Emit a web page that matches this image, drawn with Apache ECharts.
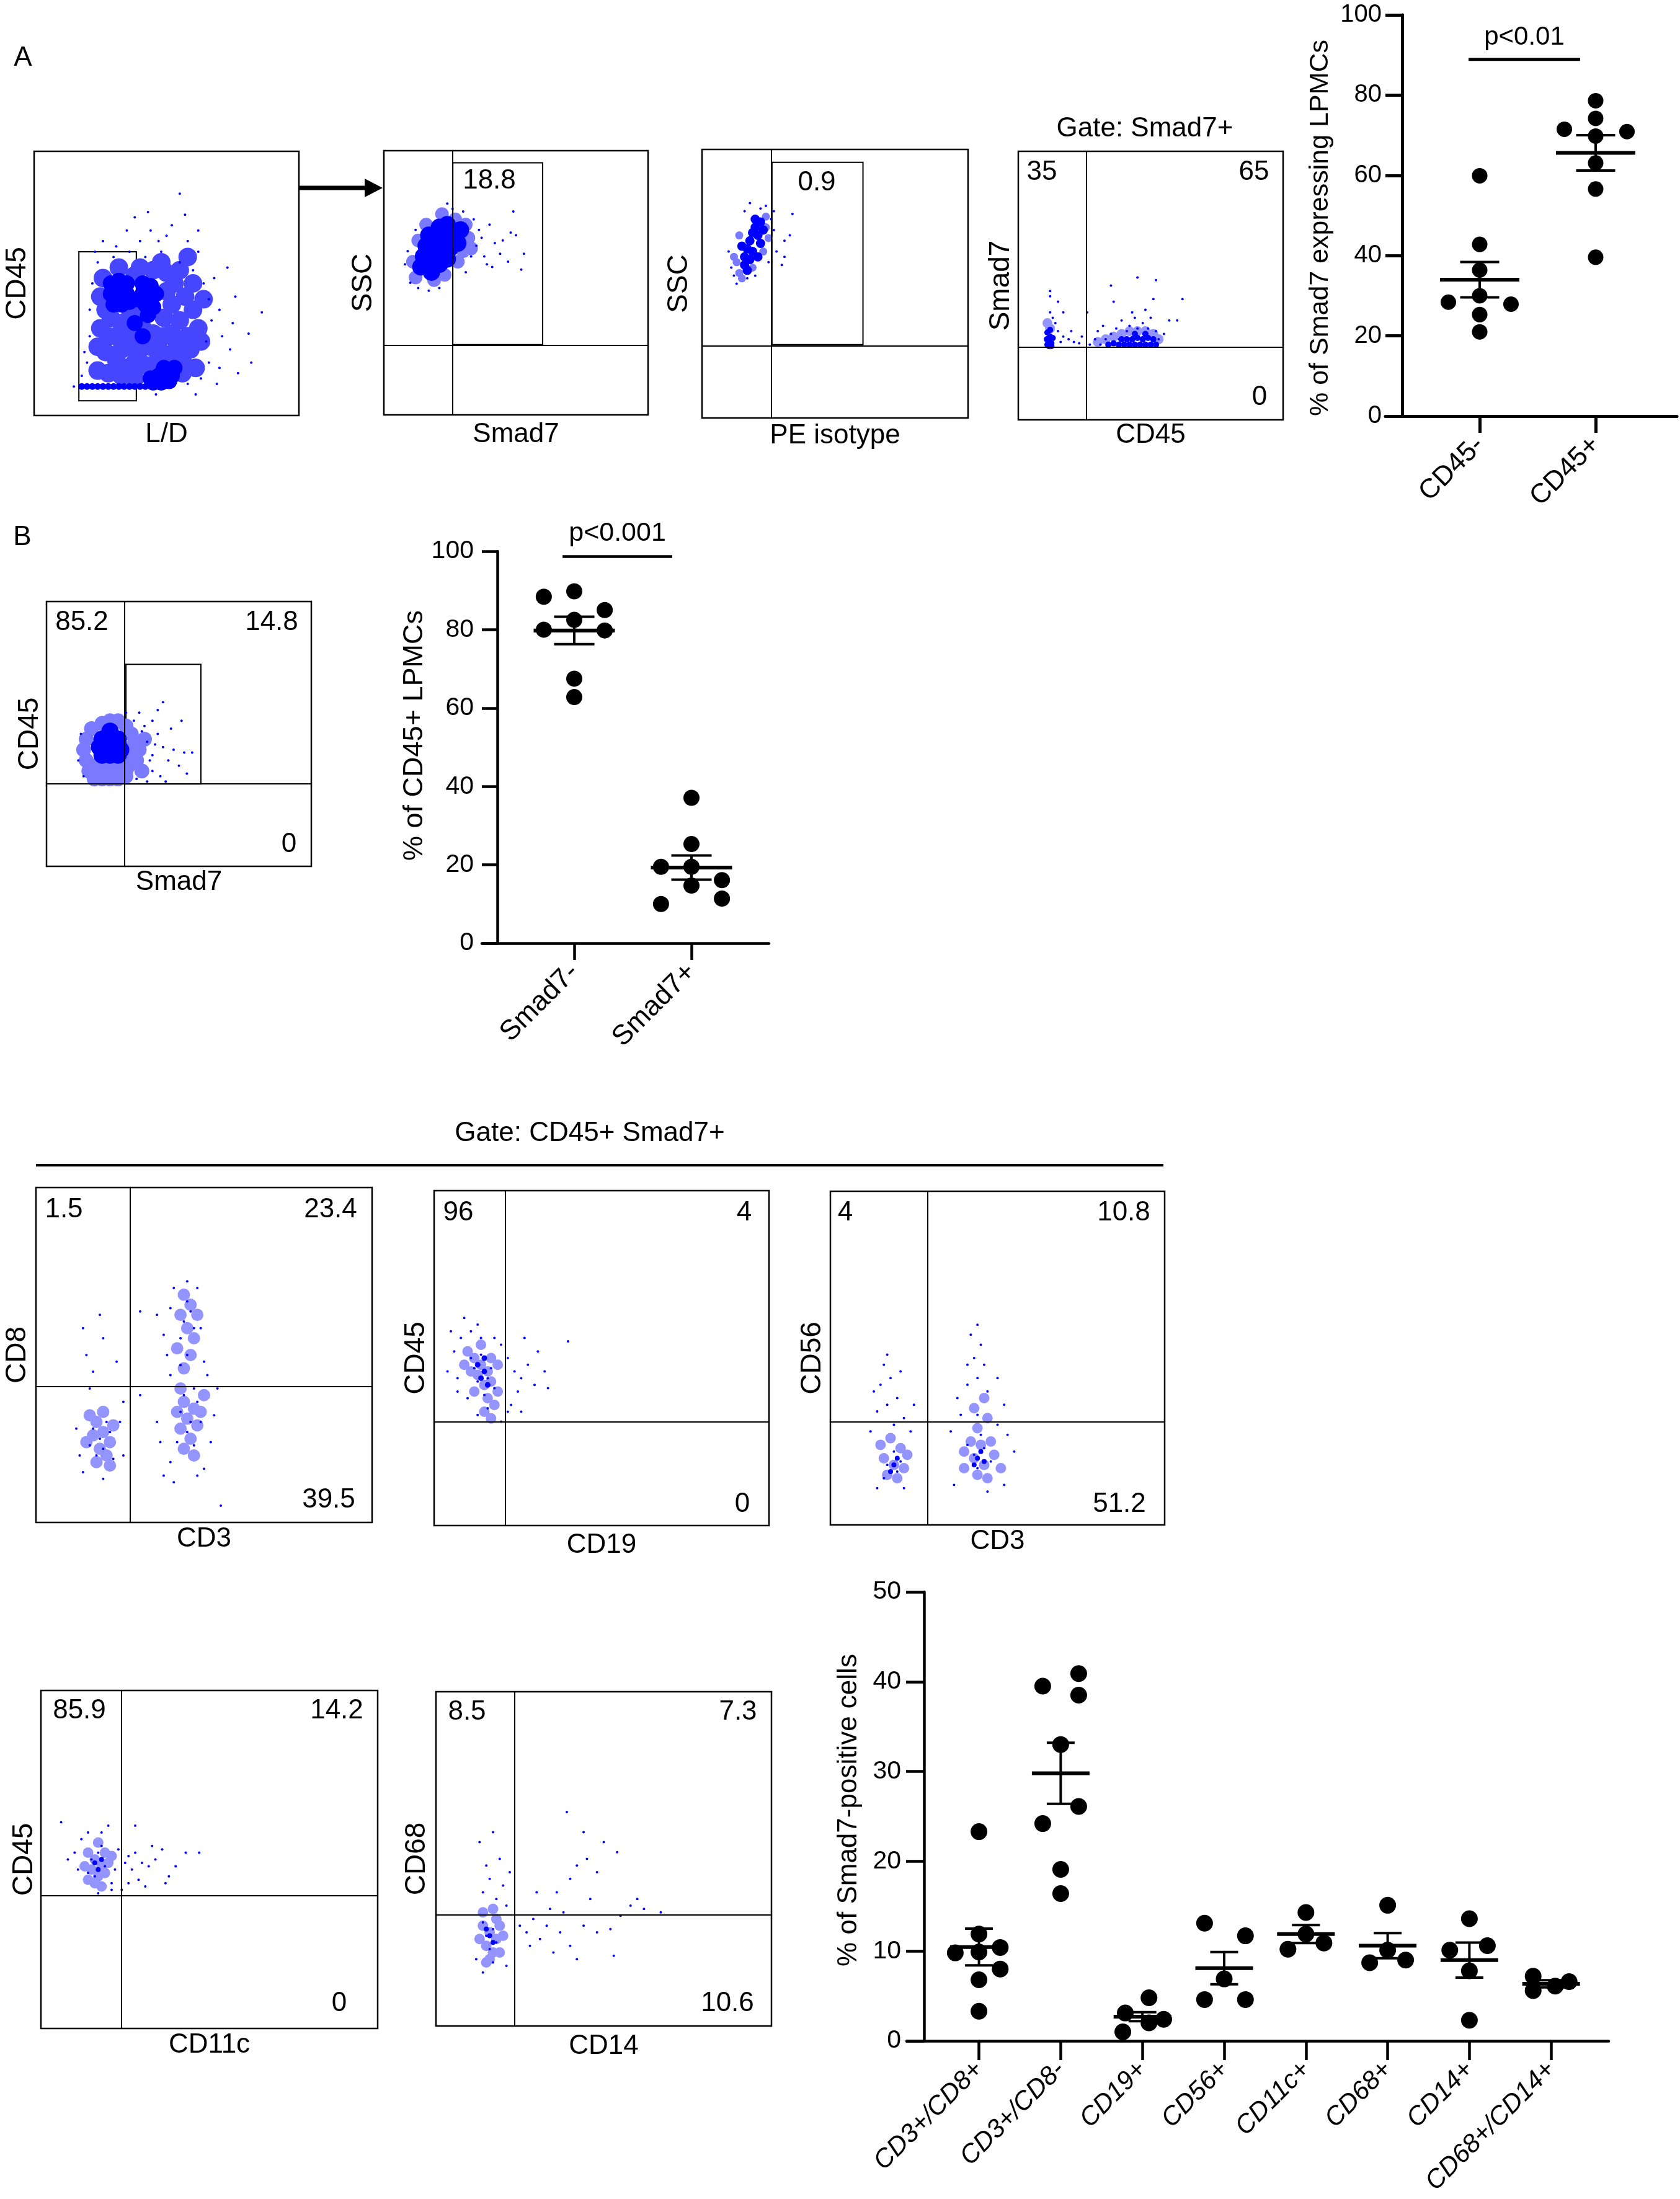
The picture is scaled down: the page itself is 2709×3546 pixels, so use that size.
<!DOCTYPE html>
<html>
<head>
<meta charset="utf-8">
<script src="https://cdn.jsdelivr.net/npm/echarts@6/dist/echarts.min.js"></script>
<style>
html, body { margin: 0; padding: 0; background: #fff; }
#main { width: 2709px; height: 3546px; }
</style>
</head>
<body>
<div id="main"></div>
<script>
var FONT = '"Liberation Sans", Arial, Helvetica, sans-serif';
var BLUE = '#0000ff';

// ---------- dot plots ----------
var aGroups = ['CD45-', 'CD45+'];
var aValues = [
	[59.9, 42.8, 36.4, 30.0, 28.4, 27.9, 25.3, 21.0],
	[78.6, 74.2, 71.5, 70.9, 69.8, 63.1, 56.6, 39.6]
];
var aSpread = [
	[0, 0, 0, 0, -0.27, 0.27, 0, 0],
	[0, 0, -0.27, 0.27, 0, 0, 0, 0]
];
var aMean = [34.0, 65.6];
var aSem = [4.4, 4.4];
var aPval = 'p<0.01';

var bGroups = ['Smad7-', 'Smad7+'];
var bValues = [
	[89.8, 88.4, 85.0, 82.5, 80.0, 79.8, 67.5, 62.8],
	[37.1, 25.3, 19.5, 19.5, 16.1, 14.7, 11.4, 10.0]
];
var bSpread = [
	[0, -0.26, 0.26, 0, -0.26, 0.26, 0, 0],
	[0, 0, -0.26, 0, 0.26, 0, 0.26, -0.26]
];
var bMean = [79.8, 19.3];
var bSem = [3.5, 3.1];
var bPval = 'p<0.001';

var dGroups = ['CD3+/CD8+', 'CD3+/CD8-', 'CD19+', 'CD56+', 'CD11c+', 'CD68+', 'CD14+', 'CD68+/CD14+'];
var dValues = [
	[23.3, 11.9, 9.8, 10.4, 9.9, 8.0, 6.8, 3.3],
	[39.5, 40.9, 38.5, 33.0, 26.1, 24.2, 19.1, 16.4],
	[3.1, 4.8, 1.0, 2.0, 2.4],
	[13.1, 11.7, 6.9, 4.6, 4.6],
	[14.3, 10.2, 10.9, 11.9],
	[15.1, 8.7, 9.0, 10.1],
	[13.6, 10.1, 10.6, 7.8, 2.3],
	[7.2, 5.6, 6.1, 6.6]
];
var dSpread = [
	[0, 0, -0.29, 0.26, 0, 0.26, 0, 0],
	[-0.22, 0.22, 0.22, 0, 0.22, -0.22, 0, 0],
	[-0.21, 0.08, -0.24, 0.08, 0.26],
	[-0.24, 0.26, 0, -0.24, 0.26],
	[0, -0.22, 0.22, 0],
	[0, -0.22, 0.22, 0],
	[0, -0.24, 0.22, 0, 0],
	[-0.22, -0.22, 0.05, 0.22]
];
var dMean = [10.45, 29.8, 2.7, 8.1, 11.9, 10.6, 9.0, 6.35];
var dSem = [2.05, 3.4, 0.5, 1.8, 1.0, 1.4, 1.95, 0.4];

// ---------- flow plots, events in % of plot width / height ----------
// halo = speckled region, core = solid region, dots = single events
var a1Gate = [16.9, 5.6, 38.6, 62.0];
var a1Halo = [[33,35],[37,31],[41,33],[45,31],[49,30],[36,26],[40,25],[44,26],[48,24],[33,25],[31,30],[38,20],[42,19],[46,20],[51,22],[35,18],[31,21],[28,30],[29,37],[49,37],[52,31],[54,26],[27,24],[28,16],[52,42],[55,36],[58,30],[56,22],[50,47],[53,50],[57,45],[60,40],[62,33],[59,25],[61,18],[56,16],[38,53],[45,55],[50,54],[27,40],[26,52],[40,38],[36,37],[33,15],[38,14],[24,17],[25,33],[55,55],[60,50],[64,44],[63,28],[58,60],[48,58],[40,56],[32,56],[25,45],[24,26]];
var a1Core = [[29,50],[32,51],[35,50],[29,46],[32,46],[35,46],[30,42],[33,42],[36,43],[31,48],[41,50],[44,49],[46,46],[41,46],[44,45],[42,42],[45,41],[43,38],[39,44],[38,35],[41,30],[44,14],[47,15],[50,16],[52,15],[48,12.5],[45,12.5],[51,13],[53,18],[49,18]];
var a1Band = [[18,11],[20,11],[22,11],[24,11],[26,11],[28,11],[30,11],[32,11],[34,11],[36,11],[38,11],[40,11],[42,11]];
var a1Dots = [[24,58],[22,50],[21,40],[21,30],[20,20],[23,62],[30,60],[36,62],[42,60],[48,62],[55,58],[60,55],[64,50],[66,44],[67,36],[65,28],[66,20],[63,14],[58,12],[47,66],[40,66],[35,70],[38,75],[43,77],[55,84],[52,72],[58,66],[62,62],[68,52],[70,40],[71,30],[74,25],[70,18],[76,45],[81,31],[82,20],[77,16],[73,56],[44,70],[50,68],[26,66],[31,64],[19,24],[18,15],[69,12],[61,8],[46,8],[15,11],[62,70],[57,76],[75,35],[86,39]];

var a2Quad = [26.1, 26.3];
var a2Gate = [26.1, 26.6, 60.1, 95.4];
var a2Pct = ['18.8'];
var a2Halo = [[12,52],[11,58],[13,66],[30,62],[32,67],[31,72],[27,74],[22,76],[16,72],[19,51],[23,53],[28,58],[33,63]];
var a2Core = [[15,60],[18,58],[21,57],[24,59],[16,64],[19,63],[22,62],[25,63],[28,65],[17,68],[20,67],[23,67],[26,69],[29,70],[21,71],[24,72],[14,56],[18,54]];
var a2Dots = [[34,74],[36,70],[35,64],[38,60],[37,67],[40,72],[42,65],[44,61],[47,58],[52,55],[50,68],[53,61],[48,69],[41,56],[9,62],[8,57],[10,50],[13,48],[26,78],[30,77],[33,60],[39,57],[45,66],[31,54],[21,48],[17,47],[12,70],[24,80],[49,77]];

var a3Quad = [26.0, 26.9];
var a3Gate = [26.3, 27.3, 60.5, 95.2];
var a3Pct = ['0.9'];
var a3Halo = [[14,54],[13,58],[14,68],[24,75],[25,67],[23,62],[15,52],[12,60],[19,56],[24,71]];
var a3Core = [[16,60],[17,63],[18,66],[19,69],[20,71],[21,68],[22,65],[19,62],[16,57],[18,59],[23,70],[20,74],[15,64],[21,60],[17,55],[22,73]];
var a3Dots = [[26,74],[27,70],[24,79],[22,78],[28,62],[31,60],[30,57],[31,66],[25,58],[12,53],[11,56],[13,50],[10,62],[17,52],[20,53],[27,77],[34,76],[33,68],[16,77],[18,80]];

var a4Quad = [25.8, 27.0];
var a4Pct = ['35', '65', '0'];
var a4Halo = [[30,29],[33,30],[36,31],[39,32],[42,33],[45,33],[48,33],[51,32],[53,30],[11,36],[12,34]];
var a4Core = [[11,28],[11.5,29.5],[12,31],[11,32.5],[12.5,28.5],[12,33.5],[10.8,30],[13,30.5],[11.5,27.5],[12.5,27.5],[42,28],[44,28],[46,28],[48,28],[50,28],[52,28],[43,30],[45,30.5],[47,30],[49,30.5],[51,30],[40,28],[38,28],[36,28.5],[34,28],[44,32],[48,32],[41,30],[39,30]];
var a4Dots = [[14,36],[13,38],[12,40],[12,46],[12,48],[15,33],[16,29],[17,31],[19,30],[21,29],[23,28.5],[20,33],[24,31],[27,28],[29,30],[30,33],[31,28],[32,35],[33,30],[35,32],[37,34],[38,30],[39,37],[41,33],[42,35],[43,40],[44,38],[45,34],[45,53],[47,36],[48,41],[49,34],[50,38],[51,45],[52,33],[53,30],[55,32],[57,37],[60,37],[62,45],[36,44],[35,50],[52,52],[26,40],[17,40],[15,44]];

var b1Quad = [29.5, 31.1];
var b1Gate = [30.0, 31.1, 58.3, 76.3];
var b1Pct = ['85.2', '14.8', '0'];
var b1Halo = [[14,44],[15,40],[16,36],[18,33],[21,33],[24,33],[27,33],[30,34],[31,38],[32,42],[33,46],[32,50],[30,53],[27,55],[24,55],[21,54],[17,52],[15,48],[19,38],[23,37],[27,37],[30,36],[34,40],[35,44],[36,36],[37,48]];
var b1Core = [[21,48],[24,49],[27,48],[20,45],[23,46],[26,45],[28,44],[21,42],[24,42],[27,42],[24,51]];
var b1Dots = [[38,47],[40,42],[42,50],[44,45],[46,40],[40,36],[43,34],[48,44],[50,38],[52,43],[55,43],[47,52],[44,62],[40,55],[37,53],[33,55],[38,32],[45,32],[13,50],[12,40],[14,34],[35,58],[42,59],[30,58],[51,55],[53,35],[39,40],[41,46],[36,51],[34,33]];

var c1Quad = [28.0, 40.6];
var c1Pct = ['1.5', '23.4', '39.5'];
var c1Halo = [[18,30],[20,27],[22,24],[19,22],[17,26],[21,20],[18,18],[16,32],[20,33],[23,29],[22,17],[15,24],[44,36],[47,34],[45,31],[48,29],[43,28],[46,25],[49,33],[42,33],[44,22],[47,20],[50,38],[43,40],[43,62],[46,65],[45,58],[48,62],[44,68],[47,55],[42,52],[46,50],[44,46]];
var c1Dots = [[14,58],[15,50],[17,45],[16,40],[19,62],[20,55],[24,48],[26,36],[25,30],[26,20],[13,20],[12,28],[14,15],[20,13],[38,14],[40,18],[50,16],[52,24],[53,32],[54,40],[40,44],[39,50],[38,56],[40,64],[41,70],[48,70],[49,58],[50,48],[51,44],[36,62],[45,72],[47,40],[36,30],[37,24],[41,12],[48,14],[55,5],[31,63],[31,38],
	[17,28],[19,25],[21,30],[20,22],[18,20],[22,27],[16,23],[23,19],[43,33],[46,30],[48,36],[45,27],[47,23],[44,38],[49,30],[42,24],[44,60],[46,63],[43,55],[47,58],[45,66],[45,50],[43,47]];

var c2Quad = [21.3, 30.9];
var c2Pct = ['96', '4', '0'];
var c2Halo = [[10,52],[12,50],[14,48],[16,46],[13,45],[15,42],[17,43],[11,46],[14,54],[17,50],[19,48],[16,38],[18,36],[15,34],[17,32],[19,40],[9,48],[12,40]];
var c2Core = [[13,48],[15,46],[14,44],[16,42],[15,50]];
var c2Dots = [[5,58],[6,52],[4,46],[7,44],[8,56],[11,58],[13,60],[9,62],[18,56],[20,54],[22,50],[24,46],[26,44],[28,48],[30,42],[25,40],[23,36],[26,34],[31,52],[33,46],[34,41],[27,56],[22,34],[20,31],[13,33],[10,38],[7,40],[40,55],
	[12,47],[14,51],[16,44],[13,43],[17,47],[15,39],[16,35],[18,41],[11,50],[14,56]];

var c3Quad = [29.1, 30.9];
var c3Pct = ['4', '10.8', '51.2'];
var c3Halo = [[16,20],[19,18],[22,17],[17,15],[20,14],[15,24],[21,23],[18,26],[23,21],[40,22],[43,20],[46,18],[49,21],[42,25],[45,24],[48,25],[44,15],[47,14],[40,17],[51,17],[44,29],[47,32],[43,35],[46,38]];
var c3Core = [[19,18],[18,16],[20,20],[44,20],[46,19],[45,22],[43,18]];
var c3Dots = [[14,34],[17,36],[20,38],[15,42],[18,44],[16,48],[21,46],[13,40],[22,32],[12,28],[24,28],[25,36],[17,51],[19,30],[14,11],[22,11],[38,38],[41,42],[44,44],[46,48],[43,50],[45,54],[42,57],[44,60],[47,40],[50,44],[39,33],[50,30],[53,27],[36,28],[37,12],[52,12],[47,10],[55,22],[52,36],[41,48],
	[17,18],[20,16],[19,22],[16,14],[21,19],[43,21],[46,23],[44,17],[48,19],[41,24],[45,27],[44,33]];

var d1Quad = [23.9, 39.4];
var d1Pct = ['85.9', '14.2', '0'];
var d1Halo = [[14,52],[16,50],[18,48],[15,47],[17,45],[19,52],[17,55],[13,48],[20,49],[16,43],[18,42],[14,44],[19,46],[21,51]];
var d1Core = [[16,49],[18,50],[17,47]];
var d1Dots = [[11,47],[10,52],[12,56],[14,58],[18,58],[20,60],[21,43],[22,47],[23,53],[25,49],[26,51],[27,47],[28,52],[29,44],[30,49],[32,48],[34,50],[36,53],[38,45],[40,48],[47,52],[43,52],[31,42],[33,54],[26,43],[37,43],[6,61],[8,50],[21,41],[17,40],[24,41],[28,60],
	[15,50],[17,52],[19,48],[14,46],[16,45],[18,54]];

var d2Quad = [23.5, 33.2];
var d2Pct = ['8.5', '7.3', '10.6'];
var d2Halo = [[14,30],[16,28],[18,26],[15,24],[17,22],[19,30],[13,26],[16,20],[18,32],[20,27],[14,34],[17,35],[15,19],[19,22]];
var d2Core = [[16,27],[17,25],[15,29]];
var d2Dots = [[14,40],[16,44],[18,38],[20,42],[15,48],[19,50],[13,55],[17,58],[21,36],[22,46],[25,30],[27,28],[29,32],[31,26],[33,30],[35,22],[37,28],[40,24],[42,20],[44,30],[48,28],[52,29],[55,33],[58,36],[36,40],[40,44],[42,48],[45,50],[48,46],[50,55],[54,52],[44,58],[60,38],[62,35],[67,34],[34,35],[38,34],[30,40],[46,38],[12,20],[14,16],[21,18],[28,24],[53,21],[39,64],
	[15,27],[17,29],[16,23],[18,25],[14,31],[17,19]];

// ---------- build ----------
var grids = [], xAxes = [], yAxes = [], series = [], graphics = [];

function hiddenAxis(gi) {
	return {type: 'value', gridIndex: gi, min: 0, max: 100,
		axisLine: {show: false}, axisTick: {show: false}, axisLabel: {show: false}, splitLine: {show: false}};
}

function addFlow(cfg) {
	var b = cfg.box;
	var gi = grids.length;
	grids.push({left: b[0], top: b[1], width: b[2] - b[0], height: b[3] - b[1], show: true,
		borderColor: '#000', borderWidth: 2.5, backgroundColor: 'rgba(0,0,0,0)', outerBoundsMode: 'none'});
	var xi = xAxes.length, yi = yAxes.length;
	var xa = hiddenAxis(gi);
	xa.name = cfg.xName; xa.nameLocation = 'middle'; xa.nameGap = cfg.xGap;
	xa.nameTextStyle = {fontFamily: FONT, fontSize: 44, color: '#000'};
	var ya = hiddenAxis(gi);
	ya.name = cfg.yName; ya.nameLocation = 'middle'; ya.nameGap = cfg.yGap;
	ya.nameTextStyle = {fontFamily: FONT, fontSize: 46, color: '#000'};
	xAxes.push(xa); yAxes.push(ya);

	cfg.layers.forEach(function (l, k) {
		var s = {type: 'scatter', xAxisIndex: xi, yAxisIndex: yi, data: l[0], symbol: 'circle', symbolSize: l[1],
			itemStyle: {color: l[2], opacity: 1, borderWidth: 0}, silent: true, z: 2};
		if (k === cfg.layers.length - 1) {
			if (cfg.quad) {
				s.markLine = {silent: true, symbol: ['none', 'none'], label: {show: false}, animation: false,
					lineStyle: {color: '#000', width: 2, type: 'solid', opacity: 1},
					data: [{xAxis: cfg.quad[0]}, {yAxis: cfg.quad[1]}]};
			}
			if (cfg.gate) {
				s.markArea = {silent: true, label: {show: false},
					itemStyle: {color: 'rgba(0,0,0,0)', borderColor: '#000', borderWidth: 2, opacity: 1},
					data: [[{xAxis: cfg.gate[0], yAxis: cfg.gate[1]}, {xAxis: cfg.gate[2], yAxis: cfg.gate[3]}]]};
			}
		}
		series.push(s);
	});

	(cfg.pct || []).forEach(function (t, k) {
		graphics.push({type: 'text', x: cfg.pctPos[k][0], y: cfg.pctPos[k][1], silent: true,
			style: {text: t, fontFamily: FONT, fontSize: 44, fill: '#000', align: 'center', verticalAlign: 'middle'}});
	});
}

function addDotPlot(d, L) {
	var n = d.groups.length;
	var gLeft = L.cat0 - L.step / 2;
	var axisStyle = {color: '#000', width: L.lw};

	var gi = grids.length;
	grids.push({left: gLeft, top: L.yTop, width: n * L.step, height: L.yBottom - L.yTop, outerBoundsMode: 'none'});
	var xv = xAxes.length;
	xAxes.push({type: 'value', gridIndex: gi, min: 0.5, max: n + 0.5, show: false, position: 'top'});
	xAxes.push({type: 'category', gridIndex: gi, position: 'bottom', data: d.groups, boundaryGap: true,
		axisLine: {show: false},
		axisTick: {show: true, alignWithLabel: true, length: L.catTick, lineStyle: axisStyle},
		axisLabel: {interval: 0, rotate: L.rot, margin: L.catMargin, color: '#000', fontFamily: FONT,
			fontSize: L.catFont, fontStyle: L.italic ? 'italic' : 'normal'},
		splitLine: {show: false}});
	var yi = yAxes.length;
	yAxes.push({type: 'value', gridIndex: gi, min: 0, max: L.yMax, interval: L.yStep, offset: gLeft - L.yAxisX,
		axisLine: {show: true, lineStyle: axisStyle},
		axisTick: {show: true, length: L.tick, lineStyle: axisStyle},
		axisLabel: {color: '#000', fontFamily: FONT, fontSize: L.tickFont, margin: L.tickMargin},
		splitLine: {show: false},
		name: L.title, nameLocation: 'middle', nameGap: L.nameGap,
		nameTextStyle: {fontFamily: FONT, fontSize: L.titleFont, color: '#000', padding: L.namePad}});

	// x axis line runs past the y axis, like the original
	var gb = grids.length;
	grids.push({left: L.lineLeft, top: L.yTop, width: L.lineRight - L.lineLeft, height: L.yBottom - L.yTop, outerBoundsMode: 'none'});
	xAxes.push({type: 'value', gridIndex: gb, min: 0, max: 1,
		axisLine: {show: true, onZero: false, lineStyle: axisStyle},
		axisTick: {show: false}, axisLabel: {show: false}, splitLine: {show: false}});
	yAxes.push({type: 'value', gridIndex: gb, min: 0, max: 1, show: false});

	var pts = [];
	d.values.forEach(function (col, i) {
		col.forEach(function (v, k) { pts.push([i + 1 + d.spread[i][k], v]); });
	});
	series.push({type: 'scatter', xAxisIndex: xv, yAxisIndex: yi, data: pts, symbol: 'circle', symbolSize: L.dot,
		itemStyle: {color: '#000', opacity: 1}, silent: true, z: 3});

	// mean +/- SEM
	series.push({type: 'custom', xAxisIndex: xv, yAxisIndex: yi, silent: true, z: 4,
		encode: {x: 0, y: 1},
		data: d.mean.map(function (m, i) { return [i + 1, m, d.sem[i]]; }),
		renderItem: function (params, api) {
			var x = api.value(0), m = api.value(1), s = api.value(2);
			var c = api.coord([x, m]), hi = api.coord([x, m + s]), lo = api.coord([x, m - s]);
			return {type: 'group', children: [
				{type: 'line', shape: {x1: c[0] - L.meanW / 2, y1: c[1], x2: c[0] + L.meanW / 2, y2: c[1]}, style: {stroke: '#000', lineWidth: L.meanLw}},
				{type: 'line', shape: {x1: c[0], y1: hi[1], x2: c[0], y2: lo[1]}, style: {stroke: '#000', lineWidth: L.capLw}},
				{type: 'line', shape: {x1: c[0] - L.capW / 2, y1: hi[1], x2: c[0] + L.capW / 2, y2: hi[1]}, style: {stroke: '#000', lineWidth: L.capLw}},
				{type: 'line', shape: {x1: c[0] - L.capW / 2, y1: lo[1], x2: c[0] + L.capW / 2, y2: lo[1]}, style: {stroke: '#000', lineWidth: L.capLw}}
			]};
		}});

	// significance bar
	if (d.pval) {
		series.push({type: 'custom', xAxisIndex: xv, yAxisIndex: yi, silent: true, z: 4,
			encode: {x: [0, 1], y: 2},
			data: [[L.sig[0], L.sig[1], L.sig[2]]],
			renderItem: function (params, api) {
				var a = api.coord([api.value(0), api.value(2)]), b = api.coord([api.value(1), api.value(2)]);
				return {type: 'group', children: [
					{type: 'line', shape: {x1: a[0], y1: a[1], x2: b[0], y2: b[1]}, style: {stroke: '#000', lineWidth: L.lw}},
					{type: 'text', x: (a[0] + b[0]) / 2, y: a[1] - L.pGap,
						style: {text: d.pval, fontFamily: FONT, fontSize: L.pFont, fill: '#000', align: 'center', verticalAlign: 'bottom'}}
				]};
			}});
	}
}

var HALO_DARK = '#4646ff', HALO = '#7a7aff', HALO_LIGHT = '#9494ff';

// panel A flow plots
addFlow({box: [55, 244, 482, 670], xName: 'L/D', xGap: 9, yName: 'CD45', yGap: 4, gate: a1Gate,
	layers: [[a1Halo, 30, HALO_DARK], [a1Core, 26, BLUE], [a1Band, 11, BLUE], [a1Dots, 4, BLUE]]});
addFlow({box: [619, 243, 1045, 669], xName: 'Smad7', xGap: 10, yName: 'SSC', yGap: 10, quad: a2Quad, gate: a2Gate,
	pct: a2Pct, pctPos: [[789, 292]],
	layers: [[a2Halo, 22, HALO], [a2Core, 28, BLUE], [a2Dots, 4, BLUE]]});
addFlow({box: [1132, 241, 1561, 674], xName: 'PE isotype', xGap: 7, yName: 'SSC', yGap: 14, quad: a3Quad, gate: a3Gate,
	pct: a3Pct, pctPos: [[1317, 295]],
	layers: [[a3Halo, 13, HALO], [a3Core, 15, BLUE], [a3Dots, 4, BLUE]]});
addFlow({box: [1642, 244, 2069, 677], xName: 'CD45', xGap: 3, yName: 'Smad7', yGap: 5, quad: a4Quad,
	pct: a4Pct, pctPos: [[1680, 278], [2022, 278], [2031, 641]],
	layers: [[a4Halo, 16, HALO_LIGHT], [a4Core, 10, BLUE], [a4Dots, 4, BLUE]]});

// panel B flow plot
addFlow({box: [75, 970, 502, 1397], xName: 'Smad7', xGap: 4, yName: 'CD45', yGap: 4, quad: b1Quad, gate: b1Gate,
	pct: b1Pct, pctPos: [[132, 1004], [438, 1004], [466, 1362]],
	layers: [[b1Halo, 24, HALO], [b1Core, 28, BLUE], [b1Dots, 4, BLUE]]});

// gate CD45+ Smad7+ plots
addFlow({box: [58, 1915, 600, 2455], xName: 'CD3', xGap: 5, yName: 'CD8', yGap: 7, quad: c1Quad,
	pct: c1Pct, pctPos: [[103, 1951], [533, 1951], [530, 2419]],
	layers: [[c1Halo, 20, HALO_LIGHT], [c1Dots, 4, BLUE]]});
addFlow({box: [700, 1920, 1240, 2460], xName: 'CD19', xGap: 10, yName: 'CD45', yGap: 6, quad: c2Quad,
	pct: c2Pct, pctPos: [[739, 1956], [1200, 1956], [1197, 2426]],
	layers: [[c2Halo, 17, HALO_LIGHT], [c2Core, 9, BLUE], [c2Dots, 4, BLUE]]});
addFlow({box: [1339, 1921, 1878, 2459], xName: 'CD3', xGap: 5, yName: 'CD56', yGap: 6, quad: c3Quad,
	pct: c3Pct, pctPos: [[1363, 1956], [1812, 1956], [1805, 2426]],
	layers: [[c3Halo, 17, HALO_LIGHT], [c3Core, 8, BLUE], [c3Dots, 4, BLUE]]});
addFlow({box: [66, 2726, 609, 3271], xName: 'CD11c', xGap: 5, yName: 'CD45', yGap: 4, quad: d1Quad,
	pct: d1Pct, pctPos: [[128, 2759], [543, 2759], [547, 3231]],
	layers: [[d1Halo, 17, HALO_LIGHT], [d1Core, 8, BLUE], [d1Dots, 4, BLUE]]});
addFlow({box: [703, 2728, 1244, 3267], xName: 'CD14', xGap: 11, yName: 'CD68', yGap: 8, quad: d2Quad,
	pct: d2Pct, pctPos: [[753, 2761], [1190, 2761], [1173, 3231]],
	layers: [[d2Halo, 17, HALO_LIGHT], [d2Core, 8, BLUE], [d2Dots, 4, BLUE]]});

// summary dot plots
addDotPlot({groups: aGroups, values: aValues, spread: aSpread, mean: aMean, sem: aSem, pval: aPval},
	{yAxisX: 2261, yTop: 24, yBottom: 671, cat0: 2386, step: 187, lineLeft: 2234, lineRight: 2704,
	 yMax: 100, yStep: 20, tick: 27, catTick: 27, lw: 5, dot: 25, meanW: 128, capW: 63, meanLw: 6, capLw: 4,
	 tickFont: 40, tickMargin: 33, title: '% of Smad7 expressing LPMCs', titleFont: 43, nameGap: 110, namePad: [0, 40, 0, 0],
	 catFont: 44, rot: 45, catMargin: 40, italic: false, sig: [0.904, 1.866, 88.9], pGap: 14, pFont: 42});
addDotPlot({groups: bGroups, values: bValues, spread: bSpread, mean: bMean, sem: bSem, pval: bPval},
	{yAxisX: 802, yTop: 889, yBottom: 1521, cat0: 926, step: 189, lineLeft: 777, lineRight: 1240,
	 yMax: 100, yStep: 20, tick: 25, catTick: 27, lw: 4.5, dot: 26, meanW: 131, capW: 65, meanLw: 6, capLw: 4,
	 tickFont: 41, tickMargin: 38, title: '% of CD45+ LPMCs', titleFont: 45, nameGap: 111, namePad: [0, 0, 0, 38],
	 catFont: 45, rot: 45, catMargin: 40, italic: false, sig: [0.90, 1.836, 98.66], pGap: 16, pFont: 43});
addDotPlot({groups: dGroups, values: dValues, spread: dSpread, mean: dMean, sem: dSem, pval: null},
	{yAxisX: 1490, yTop: 2567, yBottom: 3291, cat0: 1578.6, step: 131.8, lineLeft: 1462, lineRight: 2594,
	 yMax: 50, yStep: 10, tick: 29, catTick: 31, lw: 4.5, dot: 27, meanW: 93, capW: 45, meanLw: 6, capLw: 4,
	 tickFont: 41, tickMargin: 37, title: '% of Smad7-positive cells', titleFont: 44, nameGap: 99, namePad: [0, 0, 0, 20],
	 catFont: 42, rot: 45, catMargin: 40, italic: true});

// panel letters, gate captions, arrow, divider
function label(text, x, y, size) {
	graphics.push({type: 'text', x: x, y: y, silent: true,
		style: {text: text, fontFamily: FONT, fontSize: size, fill: '#000', align: 'center', verticalAlign: 'middle'}});
}
label('A', 37, 94, 44);
label('B', 36, 867, 44);
label('Gate: Smad7+', 1846, 208, 44);
label('Gate: CD45+ Smad7+', 951, 1828, 44);
graphics.push({type: 'line', silent: true, shape: {x1: 482, y1: 303, x2: 592, y2: 303}, style: {stroke: '#000', lineWidth: 7}});
graphics.push({type: 'polygon', silent: true, shape: {points: [[588, 288], [617, 303], [588, 318]]}, style: {fill: '#000'}});
graphics.push({type: 'line', silent: true, shape: {x1: 58, y1: 1879, x2: 1876, y2: 1879}, style: {stroke: '#000', lineWidth: 4}});

var chart = echarts.init(document.getElementById('main'));
chart.setOption({
	backgroundColor: '#fff',
	animation: false,
	textStyle: {fontFamily: FONT},
	grid: grids,
	xAxis: xAxes,
	yAxis: yAxes,
	series: series,
	graphic: {elements: graphics}
});
</script>
</body>
</html>
